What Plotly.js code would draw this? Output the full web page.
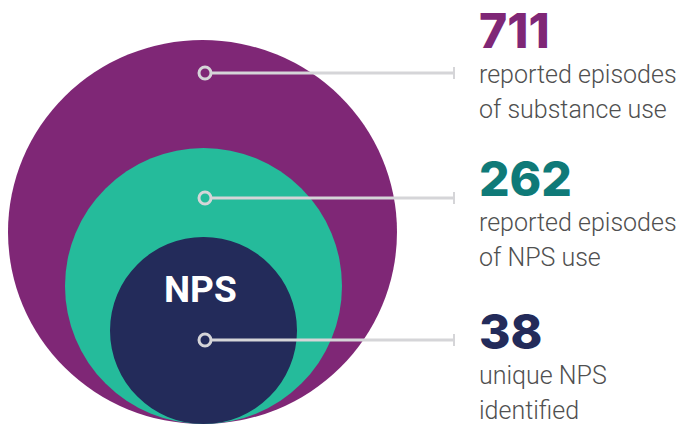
<!DOCTYPE html>
<html>
<head>
<meta charset="utf-8">
<script src="https://cdn.plot.ly/plotly-3.0.1.min.js"></script>
<style>html,body{margin:0;padding:0;background:#fff;}#chart{width:685px;height:428px;}</style>
</head>
<body>
<div id="chart"></div>
<script>
// ---- data ----
var counts = [711, 262, 38];
var descFirst = ["reported episodes", "reported episodes", "unique NPS"];
var descSecond = ["of substance use", "of NPS use", "identified"];
var innerLabel = "NPS";

// ---- styling / layout (pixel coordinate space) ----
var fills = ["#7f2776", "#25bb9b", "#232b5a"];
var numColors = ["#7f2776", "#0f7a78", "#232b5a"];
var circleBoxes = [[8, 40, 397, 424], [65, 148, 342, 424], [110, 237, 297, 424]];
var leaderY = [73, 198, 340];
var numY = [30, 178, 331];
var line1Y = [74, 222, 375];
var line2Y = [109, 257, 410];
var dotX = 205, lineEndX = 454, textX = 477;
var grey = "#d5d5d8";

var shapes = circleBoxes.map(function (b, i) {
  return {type: "circle", xref: "x", yref: "y", x0: b[0], y0: b[1], x1: b[2], y1: b[3],
    fillcolor: fills[i], line: {width: 0}, layer: "below"};
});

var traces = [];
leaderY.forEach(function (y) {
  traces.push({x: [dotX + 7, lineEndX], y: [y, y], mode: "lines", line: {color: grey, width: 3},
    hoverinfo: "skip", showlegend: false});
  traces.push({x: [lineEndX, lineEndX], y: [y - 6, y + 6], mode: "lines", line: {color: grey, width: 2},
    hoverinfo: "skip", showlegend: false});
});
traces.push({x: leaderY.map(function () { return dotX; }), y: leaderY, mode: "markers",
  marker: {symbol: "circle-open", size: 12, color: grey, line: {width: 3, color: grey}},
  hoverinfo: "skip", showlegend: false});

var annotations = [];
counts.forEach(function (c, i) {
  annotations.push({x: textX, y: numY[i], xref: "x", yref: "y", xanchor: "left", yanchor: "middle",
    text: String(c), showarrow: false,
    font: {family: "Inter, Roboto, Arial, sans-serif", size: 48, weight: 800, color: numColors[i]}});
  annotations.push({x: textX, y: line1Y[i], xref: "x", yref: "y", xanchor: "left", yanchor: "middle",
    text: descFirst[i], showarrow: false,
    font: {family: "Roboto, Arial, sans-serif", size: 25, weight: 300, color: "#505050"}});
  annotations.push({x: textX, y: line2Y[i], xref: "x", yref: "y", xanchor: "left", yanchor: "middle",
    text: descSecond[i], showarrow: false,
    font: {family: "Roboto, Arial, sans-serif", size: 25, weight: 300, color: "#505050"}});
});
annotations.push({x: 200, y: 289, xref: "x", yref: "y", xanchor: "center", yanchor: "middle",
  text: innerLabel, showarrow: false,
  font: {family: "Roboto, Arial, sans-serif", size: 37, weight: 700, color: "#ffffff"}});

var layout = {
  width: 685, height: 428,
  margin: {l: 0, r: 0, t: 0, b: 0},
  paper_bgcolor: "#ffffff", plot_bgcolor: "#ffffff",
  xaxis: {range: [0, 685], visible: false, fixedrange: true},
  yaxis: {range: [428, 0], visible: false, fixedrange: true},
  shapes: shapes,
  annotations: annotations,
  showlegend: false
};

Plotly.newPlot("chart", traces, layout, {displayModeBar: false, staticPlot: true});
</script>
</body>
</html>
